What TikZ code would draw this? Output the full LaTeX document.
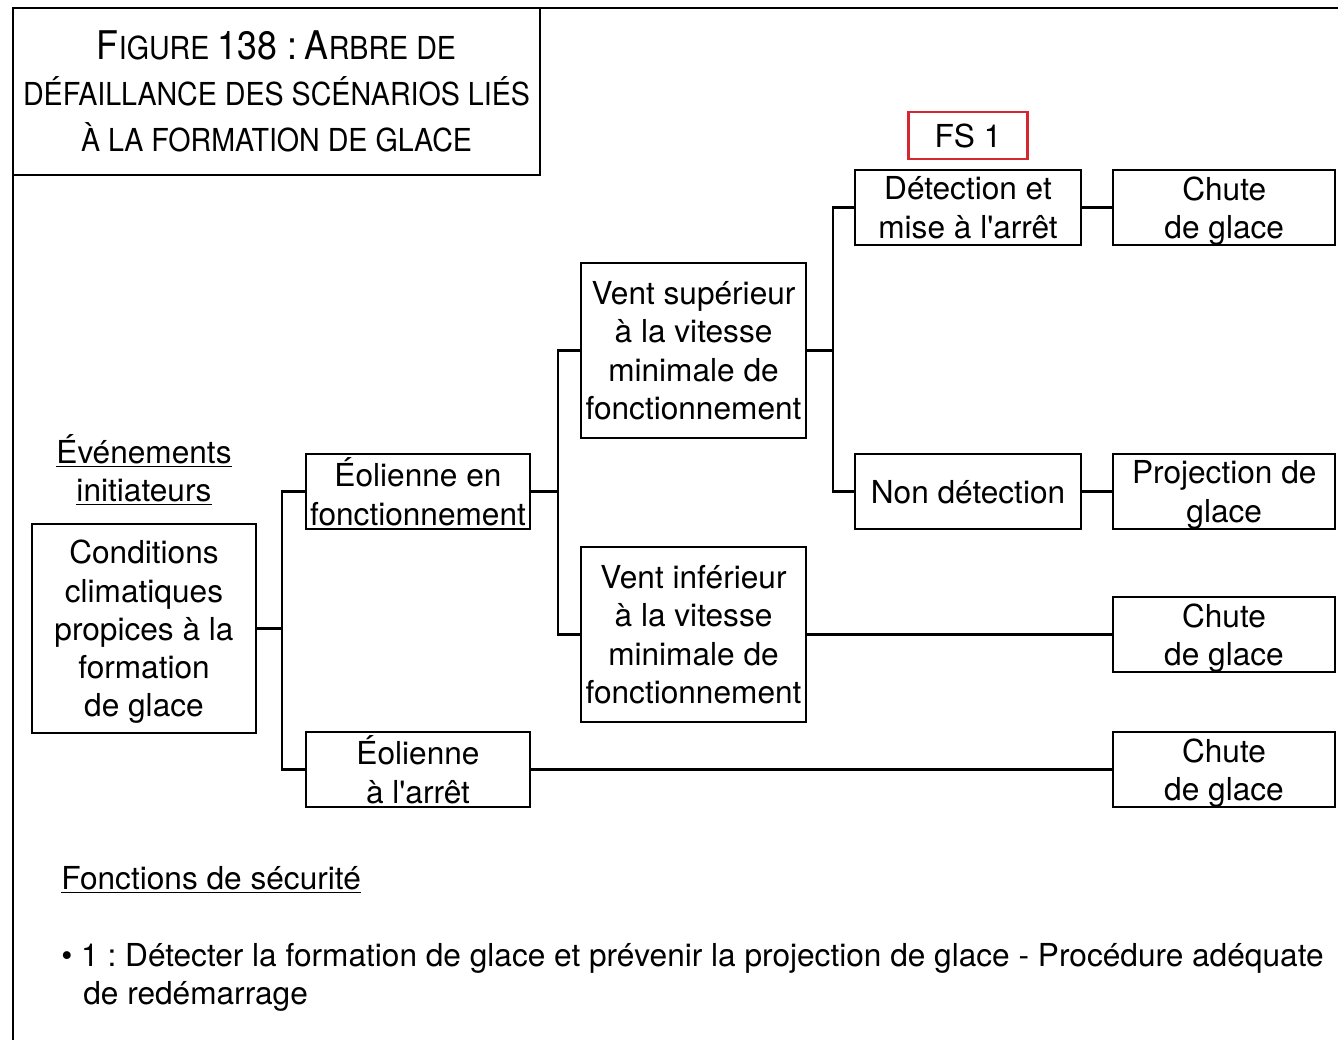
\documentclass[tikz,border=0pt]{standalone}
\usepackage{fontspec}
\setmainfont{TeX Gyre Heros}
\newfontfamily\titlefont[FakeStretch=0.905]{TeX Gyre Heros}
\usetikzlibrary{positioning}
\definecolor{fsred}{RGB}{214,38,48}
\newcommand{\grandecap}[1]{{\fontsize{22.5}{26}\selectfont #1}}
\newcommand{\apos}{\textquotesingle}
\frenchspacing

\begin{document}
\begin{tikzpicture}[
  x=0.02cm, y=-0.02cm,
  font=\fontsize{18}{21.8}\selectfont,
  event/.style={draw, line width=1.3pt, align=center, inner sep=0pt,
                text depth=0pt, minimum width=4.48cm, minimum height=1.5cm},
  tall/.style={event, minimum width=4.5cm, minimum height=3.5cm},
  outcome/.style={event, minimum width=4.44cm},
  barrier/.style={draw=fsred, line width=1.2pt, inner sep=0pt,
                  minimum width=2.38cm, minimum height=0.94cm},
  note/.style={anchor=base west, inner sep=0pt},
  link/.style={line width=1.3pt},
  node distance=0.6cm,
]
  \useasboundingbox (0,0) rectangle (1338,1040);
  \draw[link] (1338,8) -- (13,8) -- (13,1040);
  \node[draw, line width=1.3pt, inner sep=0pt, minimum width=10.54cm,
        minimum height=3.34cm, align=center,
        font=\titlefont\fontsize{18}{26}\selectfont] (title) at (276.5,91.5)
    {\grandecap{F}IGURE \grandecap{138 :} \grandecap{A}RBRE DE\\
     DÉFAILLANCE DES SCÉNARIOS LIÉS\\
     À LA FORMATION DE GLACE};

  \node[align=center, inner sep=0pt] (init) at (144,470)
    {\underline{Événements}\\\underline{initiateurs}};
  \node[event, minimum height=4.18cm] (cond) at (144,628.5)
    {Conditions\\climatiques\\propices à la\\formation\\de glace};

  \node[event] (eolf) at (418,491.5) {Éolienne en\\fonctionnement};
  \node[event] (eola) at (418,769.5) {Éolienne\\à l\apos arrêt};

  \node[tall] (vsup) at (693.5,350.5)
    {Vent supérieur\\à la vitesse\\minimale de\\fonctionnement};
  \node[tall] (vinf) at (693.5,634.5)
    {Vent inférieur\\à la vitesse\\minimale de\\fonctionnement};

  \node[event, minimum width=4.52cm] (det) at (968,207.5) {Détection et\\mise à l\apos arrêt};
  \node[event, minimum width=4.52cm] (nondet) at (968,491.5) {Non détection};
  \node[barrier, above=0.17cm of det] (fs) {FS 1};

  \node[outcome, right=of det] (chute1) {Chute\\de glace};
  \node[outcome, right=of nondet] (proj) {Projection de\\glace};
  \node[outcome] (chute2) at (1224,634.5) {Chute\\de glace};
  \node[outcome] (chute3) at (1224,769.5) {Chute\\de glace};

  \draw[link] (cond.east) -- ++(25,0) coordinate (j1);
  \draw[link] (eolf.west) -| (j1) |- (eola.west);
  \draw[link] (eolf.east) -- ++(27,0) coordinate (j2);
  \draw[link] (vsup.west) -| (j2) |- (vinf.west);
  \draw[link] (vsup.east) -- ++(26,0) coordinate (j3);
  \draw[link] (det.west) -| (j3) |- (nondet.west);
  \foreach \a/\b in {det/chute1, nondet/proj, vinf/chute2, eola/chute3}
    \draw[link] (\a) -- (\b);

  \node[note] (fshead) at (61,889) {\underline{Fonctions de sécurité}};
  \node[note] (fs1a) at (61,966)
    {• 1 : Détecter la formation de glace et prévenir la projection de glace - Procédure adéquate};
  \node[note] (fs1b) at (83,1004) {de redémarrage};
\end{tikzpicture}
\end{document}
